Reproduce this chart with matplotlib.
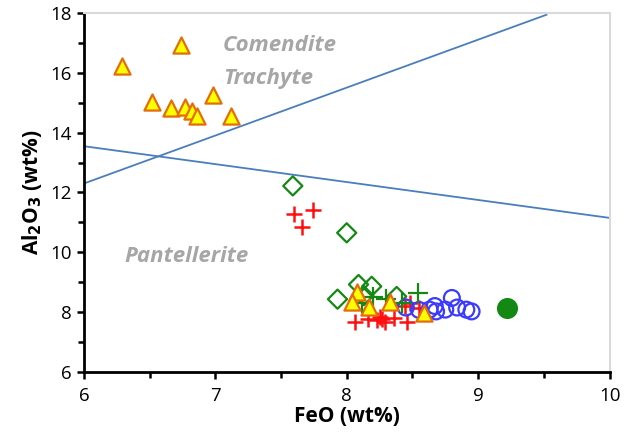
import matplotlib.pyplot as plt

plt.rcParams['font.family'] = ['Open Sans', 'DejaVu Sans']

# comendite / trachyte glasses (triangles)
tri_x = [6.29, 6.74, 6.52, 6.66, 6.77, 6.82, 6.86, 6.98, 7.12,
         8.08, 8.04, 8.17, 8.33, 8.59]
tri_y = [16.25, 16.92, 15.02, 14.83, 14.86, 14.72, 14.57, 15.25, 14.55,
         8.68, 8.32, 8.17, 8.32, 7.98]

dia_x = [7.59, 8.0, 7.93, 8.09, 8.19, 8.38, 8.13]
dia_y = [12.22, 10.65, 8.43, 8.92, 8.86, 8.52, 8.55]

gplus_x = [8.2, 8.3, 8.54, 8.12, 8.42]
gplus_y = [8.5, 8.45, 8.62, 8.3, 8.3]

rplus_x = [7.6, 7.74, 7.66, 8.06, 8.16, 8.25, 8.29, 8.27, 8.36, 8.46, 8.48, 8.55, 8.44, 8.23]
rplus_y = [11.28, 11.4, 10.85, 7.68, 7.75, 7.82, 7.68, 7.78, 7.8, 7.68, 8.3, 8.15, 8.2, 7.72]

circ_x = [8.45, 8.55, 8.63, 8.68, 8.75, 8.8, 8.84, 8.91, 8.95, 8.67]
circ_y = [8.15, 8.07, 8.08, 8.02, 8.08, 8.47, 8.15, 8.08, 8.02, 8.2]

dot_x = [9.22]
dot_y = [8.15]

line1_x = [6.0, 9.52]
line1_y = [12.3, 17.95]
line2_x = [6.0, 10.0]
line2_y = [13.55, 11.15]

fig = plt.figure(figsize=(6.35, 4.41), dpi=100)
ax = fig.add_axes([0.132, 0.157, 0.828, 0.813])

ax.plot(line1_x, line1_y, color='#4a7ebb', lw=1.3, zorder=1)
ax.plot(line2_x, line2_y, color='#4a7ebb', lw=1.3, zorder=1)

ax.scatter(dia_x, dia_y, marker='D', s=95, facecolor='none', edgecolor='#138913', lw=1.6, zorder=3)
ax.scatter(rplus_x, rplus_y, marker='+', s=130, color='#ff1010', lw=1.8, zorder=3)
ax.scatter(circ_x, circ_y, marker='o', s=130, facecolor='none', edgecolor='#3b3bff', lw=1.6, zorder=3)
ax.scatter(gplus_x, gplus_y, marker='+', s=200, color='#138913', lw=1.6, zorder=3)
ax.scatter(tri_x, tri_y, marker='^', s=135, facecolor='#ffff00', edgecolor='#e46c0a', lw=1.6, zorder=4)
ax.scatter(dot_x, dot_y, marker='o', s=200, color='#138913', zorder=4)

txt = dict(color='#a6a6a6', fontsize=16, fontweight='bold', style='italic')
ax.text(7.06, 16.92, 'Comendite', va='center', **txt)
ax.text(7.06, 15.82, 'Trachyte', va='center', **txt)
ax.text(6.31, 9.87, 'Pantellerite', va='center', **txt)

ax.set_xlim(6, 10)
ax.set_ylim(6, 18)
ax.set_xticks([6, 7, 8, 9, 10])
ax.set_xticks([6.5, 7.5, 8.5, 9.5], minor=True)
ax.set_yticks([6, 8, 10, 12, 14, 16, 18])
ax.set_yticks([7, 9, 11, 13, 15, 17], minor=True)
ax.tick_params(which='both', direction='out', width=1.8, length=5, labelsize=13.5, color='black')
ax.tick_params(which='minor', length=4)
ax.tick_params(axis='x', pad=6)

for side in ['left', 'bottom']:
    ax.spines[side].set_linewidth(2)
for side in ['top', 'right']:
    ax.spines[side].set_color('#d9d9d9')
    ax.spines[side].set_linewidth(1.5)

ax.set_xlabel('FeO (wt%)', fontsize=15, fontweight='bold', labelpad=1)
ax.set_ylabel(r'Al$_\mathbf{2}$O$_\mathbf{3}$ (wt%)', fontsize=15, fontweight='bold', labelpad=5)

fig.savefig('out.png', dpi=100)
